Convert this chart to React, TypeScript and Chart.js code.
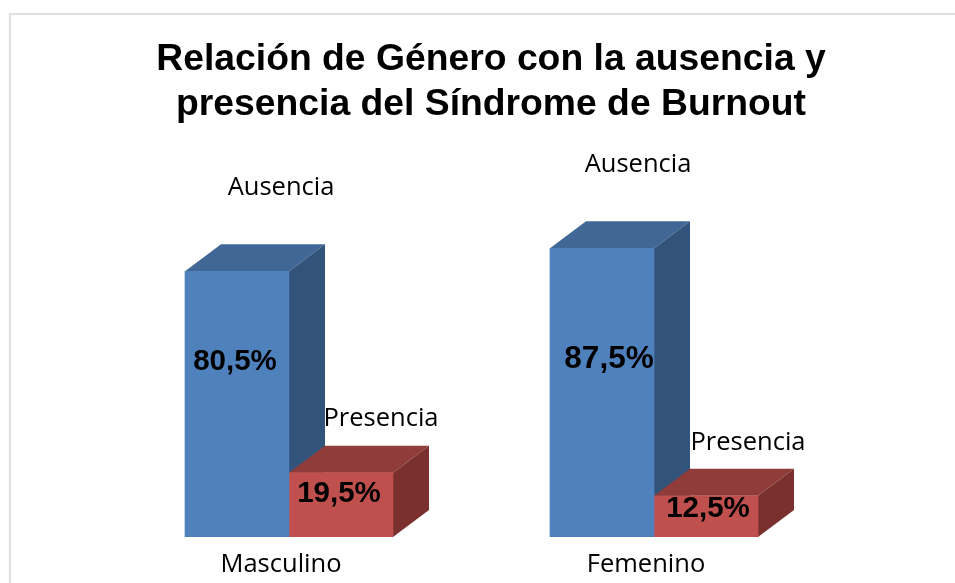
import React, { useEffect, useRef } from "react";
import { Chart, registerables } from "chart.js";

Chart.register(...registerables);

const categories = ["Masculino", "Femenino"];
const seriesNames = ["Ausencia", "Presencia"];
const ausencia = [80.5, 87.5];
const presencia = [19.5, 12.5];
const titleLines = ["Relación de Género con la ausencia y", "presencia del Síndrome de Burnout"];

const FRONT = ["#4f81bd", "#c0504d"];
const TOP = ["#406796", "#8f3c3a"];
const SIDE = ["#32537a", "#7a302e"];
const DEPTH_X = 36;
const DEPTH_Y = 27;
const VALUE_NUDGE = [[[-2, -42], [7, -33]], [[-2, -11], [2, -8]]];
const VALUE_FONT = [[29.5, 31.5], [29.5, 29.5]];
const NAME_NUDGE = [[[44, -84], [36, -83]], [[40, -54], [42, -53]]];

const poly = (ctx: CanvasRenderingContext2D, pts: number[][], color: string) => {
  ctx.beginPath();
  pts.forEach(([x, y], i) => (i ? ctx.lineTo(x, y) : ctx.moveTo(x, y)));
  ctx.closePath();
  ctx.fillStyle = color;
  ctx.fill();
};

const bars3d = {
  id: "bars3d",
  afterLayout(chart: any) {
    chart.titleBlock.left = 27;
    chart.titleBlock.right = 955;
  },
  beforeDraw(chart: any) {
    const ctx = chart.ctx;
    ctx.save();
    ctx.strokeStyle = "#e0e0e0";
    ctx.lineWidth = 2;
    ctx.beginPath();
    ctx.moveTo(10, 583);
    ctx.lineTo(10, 14);
    ctx.lineTo(955, 14);
    ctx.stroke();
    ctx.restore();
  },
  beforeDatasetsDraw(chart: any) {
    const ctx = chart.ctx;
    chart.data.datasets.forEach((_: any, d: number) => {
      chart.getDatasetMeta(d).data.forEach((el: any) => {
        const { x, y, base, width } = el.getProps(["x", "y", "base", "width"], true);
        const l = x - width / 2;
        const r = x + width / 2;
        poly(ctx, [[l, y], [r, y], [r + DEPTH_X, y - DEPTH_Y], [l + DEPTH_X, y - DEPTH_Y]], TOP[d]);
        poly(ctx, [[r, y], [r + DEPTH_X, y - DEPTH_Y], [r + DEPTH_X, base - DEPTH_Y], [r, base]], SIDE[d]);
      });
    });
  },
  afterDatasetsDraw(chart: any) {
    const ctx = chart.ctx;
    ctx.save();
    ctx.textAlign = "center";
    ctx.textBaseline = "middle";
    chart.data.datasets.forEach((ds: any, d: number) => {
      chart.getDatasetMeta(d).data.forEach((el: any, i: number) => {
        const { x, y, base } = el.getProps(["x", "y", "base"], true);
        ctx.fillStyle = "#000";
        ctx.font = `bold ${VALUE_FONT[d][i]}px 'Liberation Sans'`;
        const [vx, vy] = VALUE_NUDGE[d][i];
        ctx.fillText(ds.data[i].toFixed(1).replace(".", ",") + "%", x + vx, (y + base) / 2 + vy);
        ctx.font = "25.5px 'Open Sans'";
        const [nx, ny] = NAME_NUDGE[d][i];
        ctx.fillText(ds.label, x + nx, y + ny);
      });
    });
    ctx.restore();
  },
};

export default function App() {
  const ref = useRef<HTMLCanvasElement>(null);
  useEffect(() => {
    const chart = new Chart(ref.current!, {
      type: "bar",
      data: {
        labels: categories,
        datasets: [ausencia, presencia].map((data, d) => ({
          label: seriesNames[d],
          data,
          backgroundColor: FRONT[d],
          borderWidth: 0,
          barThickness: 104,
        })),
      },
      options: {
        responsive: false,
        animation: false,
        layout: { padding: { left: 106.5, right: 118.5, top: 37, bottom: 0 } },
        plugins: {
          legend: { display: false },
          tooltip: { enabled: false },
          title: {
            display: true,
            text: titleLines,
            color: "#000",
            font: { family: "'Liberation Sans'", size: 37.3, weight: "bold", lineHeight: 1.206 },
            padding: { top: 0, bottom: 80 },
          },
        },
        scales: {
          x: {
            grid: { display: false, drawTicks: false },
            border: { display: false },
            afterFit(axis: any) {
              axis.height = 46;
            },
            ticks: {
              color: "#000",
              font: { family: "'Open Sans'", size: 25.5 },
              padding: 12.7,
              labelOffset: -8,
              maxRotation: 0,
              autoSkip: false,
            },
          },
          y: { display: false, min: 0, max: 100 },
        },
      },
      plugins: [bars3d],
    } as any);
    return () => chart.destroy();
  }, []);
  return (
    <div style={{ position: "absolute", left: 0, top: 0, width: 955, height: 583, background: "#fff" }}>
      <canvas ref={ref} width={955} height={583} style={{ display: "block" }} />
    </div>
  );
}
